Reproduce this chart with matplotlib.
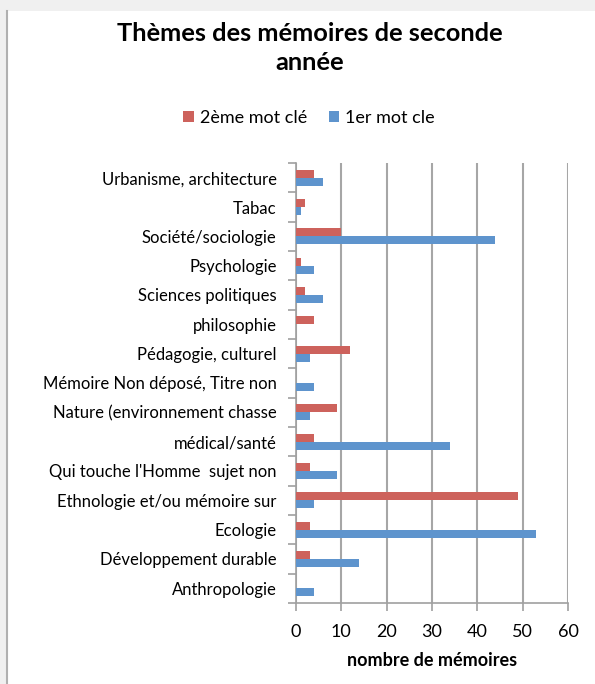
import matplotlib
matplotlib.use("Agg")
import matplotlib.pyplot as plt
import numpy as np

plt.rcParams['font.family'] = ['Lato', 'DejaVu Sans']

categories = [
    "Urbanisme, architecture",
    "Tabac",
    "Société/sociologie",
    "Psychologie",
    "Sciences politiques",
    "philosophie",
    "Pédagogie, culturel",
    "Mémoire Non déposé, Titre non",
    "Nature (environnement chasse",
    "médical/santé",
    "Qui touche l'Homme  sujet non",
    "Ethnologie et/ou mémoire sur",
    "Ecologie",
    "Développement durable",
    "Anthropologie",
]
second_kw = [4, 2, 10, 1, 2, 4, 12, 0, 9, 4, 3, 49, 3, 3, 0]
first_kw = [6, 1, 44, 4, 6, 0, 3, 4, 3, 34, 9, 4, 53, 14, 4]
xticks = [0, 10, 20, 30, 40, 50, 60]

red = '#CD625C'
blue = '#5E94CD'

fig = plt.figure(figsize=(5.95, 6.84), dpi=100)
fig.patch.set_facecolor('#F0F0F0')
# white chart area
bg = fig.add_axes([7/595, 0, 1 - 7/595, 1 - 11/684])
bg.set_facecolor('white')
bg.set_xticks([]); bg.set_yticks([])
for s in ['top', 'right', 'bottom']:
    bg.spines[s].set_visible(False)
bg.spines['left'].set_color('#B0B0B0')
bg.spines['left'].set_linewidth(1.5)

W, H = 595, 684
left, right, top, bottom = 296, 568, 163, 603
ax = fig.add_axes([left / W, 1 - bottom / H, (right - left) / W, (bottom - top) / H])
ax.set_facecolor('none')

n = len(categories)
y = np.arange(n)[::-1].astype(float)
bh = 0.27
ax.barh(y + bh / 2, second_kw, height=bh, color=red, label='2ème mot clé', zorder=3)
ax.barh(y - bh / 2, first_kw, height=bh, color=blue, label='1er mot cle', zorder=3)

ax.set_xlim(0, 60)
ax.set_ylim(-0.5, n - 0.5)
ax.set_xticks(xticks)
ax.set_xticklabels([str(t) for t in xticks], fontsize=13)
ax.set_yticks(y)
ax.set_yticklabels(categories, fontsize=12)
ax.tick_params(axis='y', length=0, pad=14)
ax.set_yticks(np.arange(-0.5, n, 1.0), minor=True)
ax.tick_params(axis='y', which='minor', length=6, color='#A0A0A0', width=1.2)
ax.tick_params(axis='x', length=6, color='#A0A0A0', width=1.2, pad=9)
ax.grid(axis='x', color='#A6A6A6', linewidth=1.5, zorder=0)
for s in ['top', 'right']:
    ax.spines[s].set_visible(False)
ax.spines['left'].set_color('#A0A0A0')
ax.spines['bottom'].set_color('#A0A0A0')
ax.spines['left'].set_linewidth(1.2)
ax.spines['bottom'].set_linewidth(1.2)
ax.set_xlabel('nombre de mémoires', fontsize=13, fontweight='bold', labelpad=9)

fig.text(310 / W, 1 - 48 / H, 'Thèmes des mémoires de seconde\nannée', ha='center', va='center',
         fontsize=18.3, fontweight='bold', linespacing=1.3)

handles, labels = ax.get_legend_handles_labels()
fig.legend(handles, labels, loc='center', bbox_to_anchor=(309 / W, 1 - 118 / H), ncol=2,
           frameon=False, fontsize=13, handlelength=0.6, handleheight=0.6,
           handletextpad=0.3, columnspacing=1.2)

fig.savefig('out.png', dpi=100, facecolor=fig.get_facecolor())
